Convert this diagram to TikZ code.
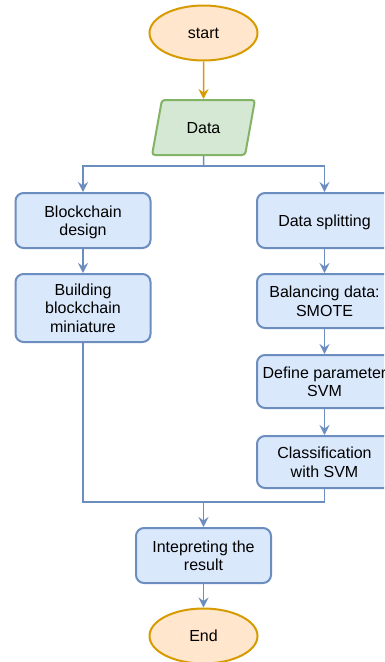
\documentclass[tikz,border=0pt]{standalone}
\usepackage{fontspec}
\setmainfont{Liberation Sans}
\usetikzlibrary{shapes.geometric,arrows.meta}
\definecolor{bfill}{HTML}{DAE8FC}
\definecolor{bline}{HTML}{6C8EBF}
\definecolor{ofill}{HTML}{FFE6CC}
\definecolor{oline}{HTML}{D79B00}
\definecolor{gfill}{HTML}{D5E8D4}
\definecolor{gline}{HTML}{82B366}
\tikzset{
  txt/.style={font=\fontsize{16}{18.5}\selectfont, align=center, text=black, text depth=0pt},
  proc/.style={txt, rectangle, rounded corners=8pt, draw=bline, fill=bfill, line width=2pt, minimum width=135pt, minimum height=55pt, inner sep=2pt},
  term/.style={txt, ellipse, draw=oline, fill=ofill, line width=2pt, minimum width=108pt, minimum height=55pt, inner sep=0pt},
  io/.style={txt, trapezium, trapezium left angle=70, trapezium right angle=110, trapezium stretches=true, rounded corners=3pt, draw=gline, fill=gfill, line width=2pt, minimum width=103pt, minimum height=55pt, inner sep=0pt},
  conn/.style={draw=bline, line width=1.5pt},
  arr/.style={conn, -{Stealth[length=10pt,width=10pt,inset=3.5pt]}},
}
\begin{document}
\begin{tikzpicture}[x=1pt,y=-1pt]
\useasboundingbox (0,0) rectangle (384,662);
\clip (0,0) rectangle (384,662);
\node[term] (start) at (203.5,33) {start};
\node[io] (data) at (203.5,127.5) {Data};
\node[proc] (bd) at (83,220.5) {Blockchain\\design};
\node[proc, minimum height=68pt] (bbm) at (83,308) {Building\\blockchain\\miniature};
\node[proc] (ds) at (324.5,220.5) {Data splitting};
\node[proc, minimum height=54pt] (bal) at (324.5,301) {Balancing data:\\SMOTE};
\node[proc, minimum height=53pt] (def) at (324.5,381.5) {Define parameter\\SVM};
\node[proc, minimum height=52pt] (cls) at (324.5,462) {Classification\\with SVM};
\node[proc] (int) at (203.5,555.5) {Intepreting the\\result};
\node[term] (end) at (203.5,636) {End};
\coordinate (sp) at (203.5,166);
\coordinate (mg) at (203.5,502);
\draw[arr, draw=oline] (start.south) -- (data.north);
\draw[conn] (data.south) -- (sp);
\draw[arr] (sp) -| (bd.north);
\draw[arr] (sp) -| (ds.north);
\draw[arr] (bd.south) -- (bbm.north);
\draw[arr] (ds.south) -- (bal.north);
\draw[arr] (bal.south) -- (def.north);
\draw[arr] (def.south) -- (cls.north);
\draw[conn] (bbm.south) |- (mg);
\draw[conn] (cls.south) |- (mg);
\draw[arr] (mg) -- (int.north);
\draw[arr] (int.south) -- (end.north);
\end{tikzpicture}
\end{document}
